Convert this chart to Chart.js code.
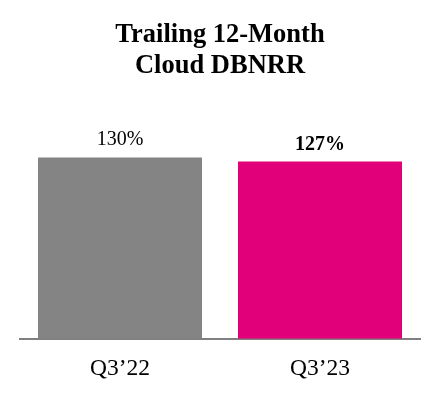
<!DOCTYPE html>
<html>
<head>
<meta charset="utf-8">
<script src="https://cdn.jsdelivr.net/npm/chart.js@4/dist/chart.umd.min.js"></script>
<style>
  body { margin: 0; background: #fff; }
</style>
</head>
<body>
<canvas id="dbnrr" width="440" height="400"></canvas>
<script>
// Chart values
const quarters = ['Q3\u201922', 'Q3\u201923'];
const dbnrr = [130, 127];
const barColors = ['#848484', '#e2007a'];
const labelBold = [false, true];

// draws the "130%" style labels over each bar
const valueLabels = {
    id: 'valueLabels',
    afterDatasetsDraw(chart) {
        const ctx = chart.ctx;
        const meta = chart.getDatasetMeta(0);
        ctx.save();
        ctx.fillStyle = '#000';
        ctx.textAlign = 'center';
        ctx.textBaseline = 'alphabetic';
        meta.data.forEach((bar, i) => {
            ctx.font = (labelBold[i] ? 'bold ' : '') + '20px "Liberation Serif", "Times New Roman", serif';
            ctx.fillText(dbnrr[i] + '%', bar.x, bar.y - 12);
        });
        ctx.restore();
    }
};

const ctx = document.getElementById('dbnrr').getContext('2d');

new Chart(ctx, {
    type: 'bar',
    data: {
        labels: quarters,
        datasets: [{
            data: dbnrr,
            backgroundColor: barColors,
            borderWidth: 0,
            barPercentage: 0.82,
            categoryPercentage: 1
        }]
    },
    options: {
        responsive: false,
        animation: false,
        layout: { padding: { left: 20, right: 20, bottom: 9 } },
        plugins: {
            legend: { display: false },
            tooltip: { enabled: false },
            title: {
                display: true,
                text: ['Trailing 12-Month', 'Cloud DBNRR'],
                color: '#000',
                font: { family: '"Liberation Serif", "Times New Roman", serif', size: 26.5, weight: 'bold', lineHeight: 1.17 },
                padding: { top: 20, bottom: 21 }
            }
        },
        scales: {
            x: {
                grid: { display: false },
                border: { display: true, color: '#808080', width: 2 },
                ticks: {
                    color: '#000',
                    padding: 8,
                    font: { family: '"Liberation Serif", "Times New Roman", serif', size: 23.5 }
                }
            },
            y: {
                display: false,
                min: 0,
                max: 169
            }
        }
    },
    plugins: [valueLabels]
});
</script>
</body>
</html>
